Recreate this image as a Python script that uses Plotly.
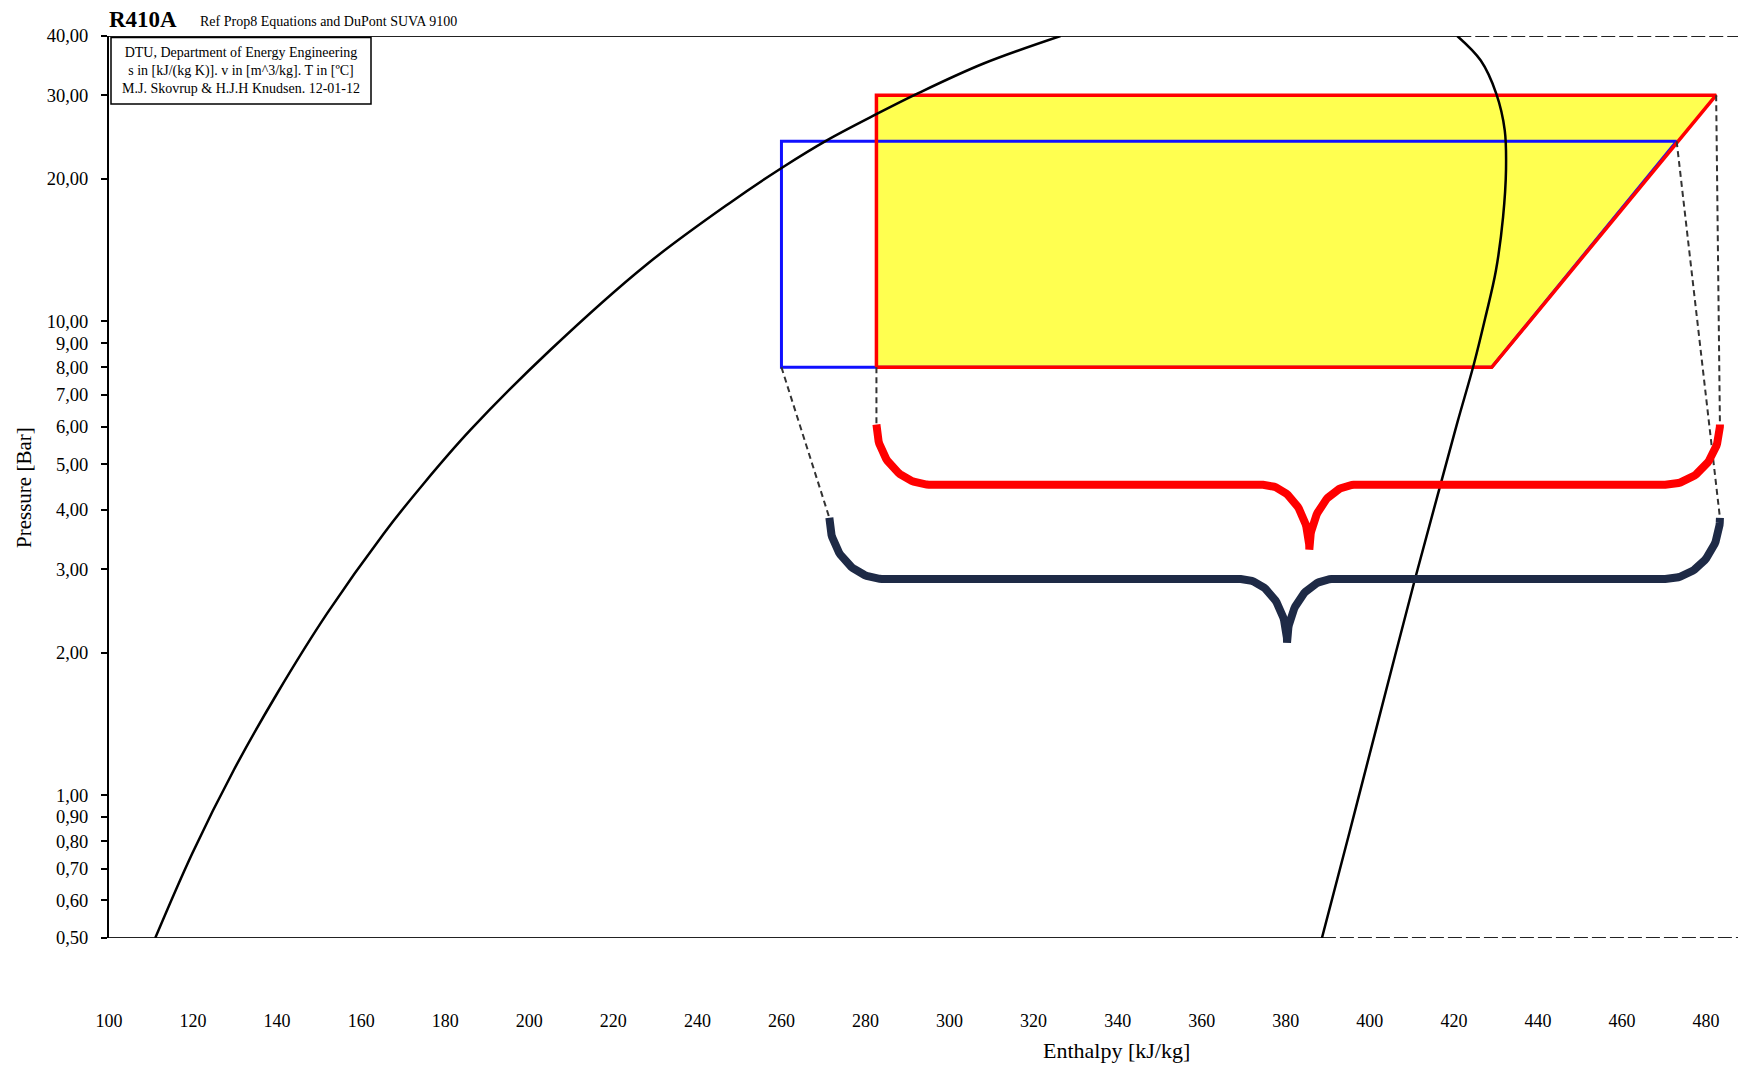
import numpy as np
import plotly.graph_objects as go

# ---------------- data ----------------
# Saturated liquid line: enthalpy [kJ/kg], pressure [bar]
liq_h = [111.0, 119.8, 129.7, 140.0, 151.9, 165.4, 174.9, 186.0, 205.0,
         228.0, 247.8, 260.5, 270.8, 282.7, 292.2, 308.1, 326.4]
liq_p = [0.50, 0.754, 1.131, 1.64, 2.42, 3.57, 4.55, 5.90, 8.70,
         13.2, 17.8, 21.2, 24.1, 27.4, 30.2, 35.0, 40.0]
# Saturated vapour line
vap_h = [388.6, 395.2, 402.0, 410.75, 416.8, 420.9, 424.7, 427.5, 430.0,
         431.7, 432.4, 432.1, 430.1, 426.4, 420.8]
vap_p = [0.50, 0.838, 1.436, 2.86, 4.52, 6.15, 8.09, 10.2, 12.8,
         16.6, 20.9, 25.3, 30.2, 35.5, 40.0]

# Cycles
red_h = [282.6, 282.6, 482.4, 429.0, 282.6]
red_p = [8.0, 30.0, 30.0, 8.0, 8.0]
blue_h = [429.0, 260.0, 260.0, 473.0, 429.0]
blue_p = [8.0, 8.0, 24.0, 24.0, 8.0]

# Braces: left end h, right end h, tip h, end p, middle p, tip p
red_brace = [282.6, 483.3, 385.6, 6.06, 4.52, 3.30]
dark_brace = [271.4, 483.3, 380.3, 3.85, 2.86, 2.10]

# Dashed guide lines (from cycle corner to brace end)
guide_h = [[260.0, 271.4], [282.6, 282.6], [482.4, 483.3], [473.0, 483.3]]
guide_p = [[8.0, 3.85], [8.0, 6.06], [30.0, 6.06], [24.0, 3.85]]

# Axes
p_range = [0.5, 40.0]
h_range = [100, 487.6]
y_ticks = [0.5, 0.6, 0.7, 0.8, 0.9, 1, 2, 3, 4, 5, 6, 7, 8, 9, 10, 20, 30, 40]
y_ticktext = ["0,50", "0,60", "0,70", "0,80", "0,90", "1,00", "2,00", "3,00", "4,00",
              "5,00", "6,00", "7,00", "8,00", "9,00", "10,00", "20,00", "30,00", "40,00"]
x_ticks = list(range(100, 481, 20))

FONT = "Liberation Serif"


def brace_path(hl, hr, ht, pe, pm, pt, r_end=13.0, r_tip=11.0, n=40):
    le, lm, lt = np.log10([pe, pm, pt])
    t = np.linspace(0, np.pi / 2, n)
    x1 = hl + r_end - r_end * np.cos(t)
    y1 = le - (le - lm) * np.sin(t)
    x2 = ht - r_tip + r_tip * np.sin(t)
    y2 = lt + (lm - lt) * np.cos(t)
    x3 = ht + r_tip - r_tip * np.cos(t)
    y3 = lt + (lm - lt) * np.sin(t)
    x4 = hr - r_end + r_end * np.sin(t)
    y4 = le - (le - lm) * np.cos(t)
    x = np.concatenate([x1, x2, x3, x4])
    y = 10 ** np.concatenate([y1, y2, y3, y4])
    return x, y


fig = go.Figure()

# top / bottom isobar frame lines: solid up to the dew line, dashed beyond
for p, hdew in [(p_range[1], vap_h[-1]), (p_range[0], vap_h[0])]:
    fig.add_trace(go.Scatter(x=[h_range[0], hdew], y=[p, p], mode="lines",
                             line=dict(color="#222222", width=2.2), hoverinfo="skip"))
    fig.add_trace(go.Scatter(x=[hdew, h_range[1]], y=[p, p], mode="lines",
                             line=dict(color="#222222", width=2.2, dash="14px,4px"),
                             hoverinfo="skip"))

# yellow fill of red cycle
fig.add_trace(go.Scatter(x=red_h, y=red_p, mode="lines", fill="toself",
                         fillcolor="#FFFF50", line=dict(width=0), hoverinfo="skip"))
# blue cycle outline
fig.add_trace(go.Scatter(x=blue_h, y=blue_p, mode="lines",
                         line=dict(color="#1010FF", width=3), hoverinfo="skip"))
# red cycle outline
fig.add_trace(go.Scatter(x=red_h, y=red_p, mode="lines",
                         line=dict(color="#FF0000", width=3.5), hoverinfo="skip"))

# saturation curves
fig.add_trace(go.Scatter(x=liq_h, y=liq_p, mode="lines",
                         line=dict(color="black", width=2.5, shape="spline",
                                   smoothing=1.0), hoverinfo="skip"))
fig.add_trace(go.Scatter(x=vap_h, y=vap_p, mode="lines",
                         line=dict(color="black", width=2.5, shape="spline",
                                   smoothing=1.0), hoverinfo="skip"))

# dashed guide lines
for gh, gp in zip(guide_h, guide_p):
    fig.add_trace(go.Scatter(x=gh, y=gp, mode="lines",
                             line=dict(color="#333333", width=2, dash="6px,4px"),
                             hoverinfo="skip"))

# braces
for b, col in [(red_brace, "#FF0000"), (dark_brace, "#1E2A46")]:
    bx, by = brace_path(*b)
    fig.add_trace(go.Scatter(x=bx, y=by, mode="lines",
                             line=dict(color=col, width=8), hoverinfo="skip"))

# ---------------- layout ----------------
L, R, T, B = 109, 0, 36, 128
W, H = 1738, 1066
pw, ph = W - L - R, H - T - B


def px(xp):
    return (xp - L) / pw


def py(yp):
    return (H - B - yp) / ph


fig.update_layout(
    width=W, height=H,
    margin=dict(l=L, r=R, t=T, b=B, autoexpand=False),
    paper_bgcolor="white", plot_bgcolor="white",
    showlegend=False,
    font=dict(family=FONT, color="black"),
    xaxis=dict(range=h_range, showgrid=False, zeroline=False, showline=False,
               automargin=False,
               tickmode="array", tickvals=x_ticks, ticks="",
               ticklabelstandoff=70, tickfont=dict(family=FONT, size=18)),
    yaxis=dict(type="log", range=[np.log10(p_range[0]), np.log10(p_range[1])],
               automargin=False,
               showgrid=False, zeroline=False, showline=True, linecolor="black",
               linewidth=2, ticks="outside", ticklen=6, tickwidth=1.5,
               tickcolor="black", tickmode="array", tickvals=y_ticks,
               ticktext=y_ticktext, ticklabelstandoff=9,
               tickfont=dict(family=FONT, size=18.5)),
)

# info box
fig.add_shape(type="rect", xref="paper", yref="paper",
              x0=px(111), x1=px(371), y0=py(104), y1=py(37.5),
              line=dict(color="black", width=1.5), fillcolor="white")
fig.add_annotation(xref="paper", yref="paper", x=px(241), y=py(70.5),
                   xanchor="center", yanchor="middle", showarrow=False,
                   align="center",
                   text="DTU, Department of Energy Engineering<br>"
                        "s in [kJ/(kg K)]. v in [m^3/kg]. T in [ºC]<br>"
                        "M.J. Skovrup &amp; H.J.H Knudsen. 12-01-12",
                   font=dict(family=FONT, size=14))

# titles
fig.add_annotation(xref="paper", yref="paper", x=px(107), y=py(20),
                   xanchor="left", yanchor="middle", showarrow=False,
                   text="<b>R410A</b>", font=dict(family=FONT, size=23))
fig.add_annotation(xref="paper", yref="paper", x=px(198), y=py(22),
                   xanchor="left", yanchor="middle", showarrow=False,
                   text="Ref Prop8 Equations and DuPont SUVA 9100",
                   font=dict(family=FONT, size=14))
fig.add_annotation(xref="paper", yref="paper", x=px(24), y=py(488),
                   xanchor="center", yanchor="middle", showarrow=False,
                   textangle=-90, text="Pressure [Bar]",
                   font=dict(family=FONT, size=21))
fig.add_annotation(xref="paper", yref="paper", x=px(1116), y=py(1050),
                   xanchor="center", yanchor="middle", showarrow=False,
                   text="Enthalpy [kJ/kg]", font=dict(family=FONT, size=22))

fig.write_html("out.html",
               config={"displayModeBar": False},
               post_script="document.body.style.margin='0px';"
                           "document.body.style.overflow='hidden';")
